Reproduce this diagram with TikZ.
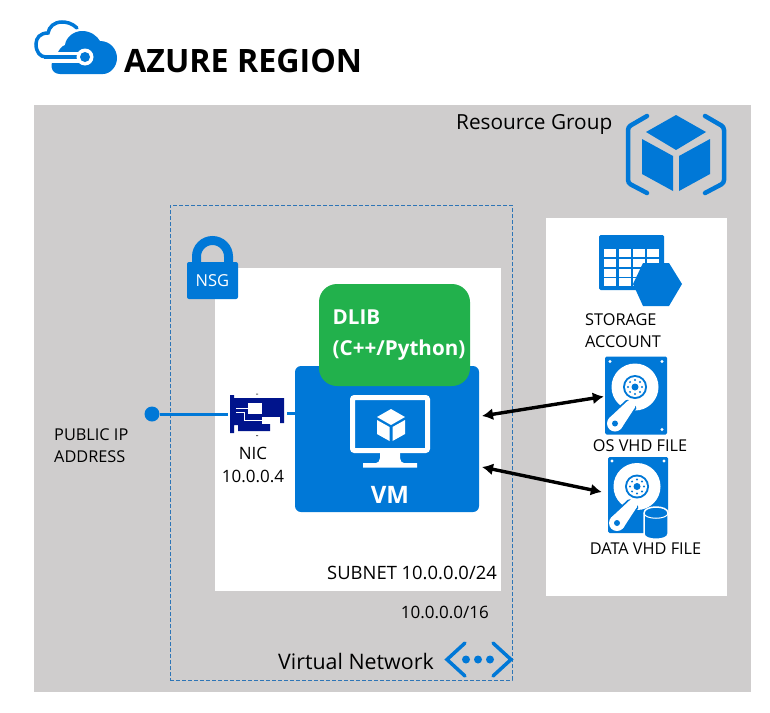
\documentclass[tikz,border=0pt]{standalone}
\usepackage{fontspec}
\setmainfont{Open Sans}
\usetikzlibrary{positioning,arrows.meta}
\definecolor{azblue}{HTML}{0078D7}
\definecolor{rggray}{HTML}{CFCDCD}
\definecolor{dlibgreen}{HTML}{22B14C}
\definecolor{nicnavy}{HTML}{00148C}
\definecolor{vnetblue}{HTML}{2E75B6}
\begin{document}
\begin{tikzpicture}[x=1pt,y=-1pt]
\tikzstyle{box}=[draw=none,fill=white,minimum width=#1,inner sep=0pt,outer sep=0pt]
\tikzstyle{lbl}=[inner sep=0pt,font=\fontsize{16.3}{22}\selectfont]
\tikzstyle{biglbl}=[inner sep=0pt,font=\fontsize{21}{24}\selectfont]
\tikzstyle{hddbox}=[fill=azblue,rounded corners=1.5pt,inner sep=0pt,minimum width=62pt,minimum height=78pt]
\tikzstyle{link}=[draw=azblue,line width=3pt]
\tikzstyle{conn}=[draw=black,line width=3.4pt,{Latex[length=11pt,width=12pt]}-{Latex[length=11pt,width=12pt]}]
\tikzset{
  hdd/.pic={
    \fill[white] (-1,-8.5) circle (23.5);
    \fill[azblue] (-1,-8.5) circle (12);
    \fill[white] (-1,-8.5) circle (10);
    \foreach \a in {0,45,...,315} \fill[azblue] (-1,-8.5) ++(\a:7) circle (1.1);
    \fill[azblue] (-1,-8.5) circle (3.5);
    \draw[azblue,line width=3.5pt,line join=round] (-14.9,33.2) -- (-1.2,12.2) -- (-8.8,5.8) -- (-27.1,22.8) -- cycle;
    \fill[white] (-14.9,33.2) -- (-1.2,12.2) -- (-8.8,5.8) -- (-27.1,22.8) -- cycle;
    \fill[white] (-5,9) circle (5);
    \fill[white] (-21,28) circle (8);
    \fill[azblue] (-21,28) circle (3);
    \foreach \p in {(-26,-34),(26,-34),(26,34)} \fill[white] \p circle (1.6);
  }
}
\useasboundingbox (0,0) rectangle (770,712);

% title
\draw[azblue,line width=3.5pt,line cap=round] (77,28) .. controls (72,23) and (66,22) .. (62,22)
  .. controls (54,22) and (49,27) .. (48,33) .. controls (40,33) and (36,38) .. (36,44)
  .. controls (36,52) and (40,57) .. (46,57);
\fill[azblue] (60,74) .. controls (50,74) and (49,62) .. (56,57) .. controls (58,50) and (62,46) .. (65,45)
  .. controls (66,37) and (74,31) .. (82,31) .. controls (91,31) and (97,36) .. (100,41)
  .. controls (110,41) and (117,49) .. (117,58) .. controls (117,67) and (110,74) .. (103,74) -- cycle;
\draw[white,line width=11pt] (52,57) -- (82,57);
\draw[azblue,line width=4pt] (44,57) -- (82,57);
\node[circle,fill=white,minimum size=17pt,inner sep=0pt] (cloudhub) at (85,57) {};
\fill[azblue] (cloudhub) circle (5);
\node[anchor=west,inner sep=0pt,font=\fontsize{32.2}{36}\selectfont\bfseries] (title) at (124,61) {AZURE REGION};

% regions
\node[box=717pt,minimum height=587pt,fill=rggray] (rg) at (392.5,398.5) {};
\node[box=181pt,minimum height=378pt] (storage) at (636.5,407) {};
\node[box=342pt,minimum height=475pt,fill=none,draw=vnetblue,line width=1pt,dash pattern=on 4pt off 2pt] (vnet) at (341,442.5) {};
\node[box=286pt,minimum height=323pt] (subnet) at (358,429.5) {};

% vm
\node[box=184pt,minimum height=146pt,fill=azblue,rounded corners=6pt] (vm) at (387,439) {};
\node[box=151pt,minimum height=102pt,fill=dlibgreen,rounded corners=18pt,text=white,align=left,
  font=\fontsize{20.6}{31}\selectfont\bfseries] (dlib) at (394.5,335) {\hspace*{9pt}DLIB\\\hspace*{9pt}(C++/Python)};
\draw[white,line width=5pt,rounded corners=2pt] (352.5,397.5) rectangle (427.5,450.5);
\fill[white] (380,452) -- (400,452) -- (400,458) .. controls (400,461) and (402,463) .. (404,463) -- (417,463) -- (417,467.5)
  -- (363,467.5) -- (363,463) -- (376,463) .. controls (378,463) and (380,461) .. (380,458) -- cycle;
\fill[white] (391,409) -- (405,417) -- (391,425) -- (377,417) -- cycle;
\fill[white] (377,420) -- (389.5,427) -- (389.5,441) -- (377,434) -- cycle;
\fill[white] (405,420) -- (392.5,427) -- (392.5,441) -- (405,434) -- cycle;
\node[inner sep=0pt,text=white,font=\fontsize{24}{28}\selectfont\bfseries] (vmlabel) at (390,495) {VM};

% nic
\node[circle,fill=azblue,minimum size=15pt,inner sep=0pt] (pubip) at (152,414) {};
\node[minimum width=55pt,minimum height=38pt,inner sep=0pt,outer sep=2pt] (nic) at (257.5,414) {};
\draw[link] (pubip) -- (pubip -| nic.west);
\draw[link] (nic.east |- 0,413) -- (vm.west |- 0,413);
\fill[nicnavy] (230,395) -- (234,395) -- (234,398) -- (284,398) -- (284,423) -- (270,423) -- (270,431) -- (238,431)
  -- (238,425) -- (234,425) -- (234,433) -- (230,433) -- cycle;
\fill[white] (248,403) rectangle (262,414);
\fill[white] (262,417) rectangle (280,424);
\draw[white,line width=.7pt] (236,408) -- (248,408) (236,412) -- (244,412) -- (244,420) -- (262,420);
\fill[black!60] (256,393.5) rectangle (258,394.5) (256,435) rectangle (258,436);
\node[lbl,align=center,font=\fontsize{17}{23}\selectfont] (niclabel) at (253,465) {NIC\\10.0.0.4};
\node[lbl,align=left,anchor=west] (iplabel) at (54,446) {PUBLIC IP\\ADDRESS};

% nsg
\draw[azblue,line width=9pt] (196.5,264) -- (196.5,256.5) arc (180:360:16) -- (228.5,264);
\node[box=51pt,minimum height=37pt,fill=azblue,rounded corners=2pt,text=white,font=\fontsize{16.5}{18}\selectfont] (nsg) at (212.5,280.5) {NSG};

% resource group icon
\fill[azblue] (676,115) -- (706,132) -- (676,150) -- (646,132) -- cycle;
\fill[azblue] (642,139) -- (673,156) -- (673,191) -- (642,174) -- cycle;
\fill[azblue] (710,139) -- (679,156) -- (679,191) -- (710,174) -- cycle;
\draw[azblue,line width=4.5pt,line cap=round,rounded corners=3pt] (647,116) -- (628,127) -- (628,183) -- (647,193);
\draw[azblue,line width=4.5pt,line cap=round,rounded corners=3pt] (705,116) -- (724,127) -- (724,183) -- (705,193);
\node[biglbl,anchor=west,font=\fontsize{20.8}{24}\selectfont] (rglabel) at (456,124) {Resource Group};

% storage account
\node[box=65pt,minimum height=55pt,fill=azblue,rounded corners=1.5pt] (table) at (631.5,262.5) {};
\foreach \cx in {604,618.5,633,647}
  \foreach \cy in {249,259,269,278}
    \fill[white] (\cx,\cy) rectangle ++(12.3,7.6);
\fill[azblue] (682,284) -- (669,263) -- (643,263) -- (633,284) -- (643,306) -- (669,306) -- cycle;
\node[lbl,align=left,anchor=west] (storagelabel) at (585,331) {STORAGE\\ACCOUNT};

% disks
\node[hddbox] (osdisk) at (636,395.5) {};
\pic at (osdisk) {hdd};
\node[lbl] (oslabel) at (640,446) {OS VHD FILE};
\node[hddbox,minimum width=60pt,minimum height=76pt] (datadisk) at (638,495) {};
\pic at (datadisk) {hdd};
\draw[white,line width=1.5pt,fill=azblue] (644,513) -- (644,534) .. controls (644,541) and (668,541) .. (668,534)
  -- (668,513) .. controls (668,505) and (644,505) .. (644,513) -- cycle;
\draw[white,line width=1pt] (644,513) .. controls (644,520) and (668,520) .. (668,513);
\node[lbl] (datalabel) at (645.5,549) {DATA VHD FILE};
\draw[conn] ([xshift=3pt,yshift=23pt]vm.east) -- ([xshift=-1pt,yshift=-1pt]osdisk.west);
\draw[conn] ([xshift=3pt,yshift=-28pt]vm.east) -- ([xshift=-6pt,yshift=3pt]datadisk.west);

% address labels
\node[lbl,anchor=east,font=\fontsize{18.4}{22}\selectfont] (subnetlabel) at (497,572.5) {SUBNET 10.0.0.0/24};
\node[lbl,anchor=east,font=\fontsize{17}{22}\selectfont] (vnetaddr) at (489,612.5) {10.0.0.0/16};
\node[biglbl,anchor=east,font=\fontsize{21.4}{24}\selectfont] (vnetlabel) at (434,661) {Virtual Network};

% vnet icon
\draw[azblue,line width=3.5pt,line cap=round] (465,643) -- (447,659.5) -- (465,676);
\draw[azblue,line width=3.5pt,line cap=round] (493,643) -- (511,659.5) -- (493,676);
\foreach \dx in {466,478,490} \fill[azblue] (\dx,659.5) circle (4);
\end{tikzpicture}
\end{document}
